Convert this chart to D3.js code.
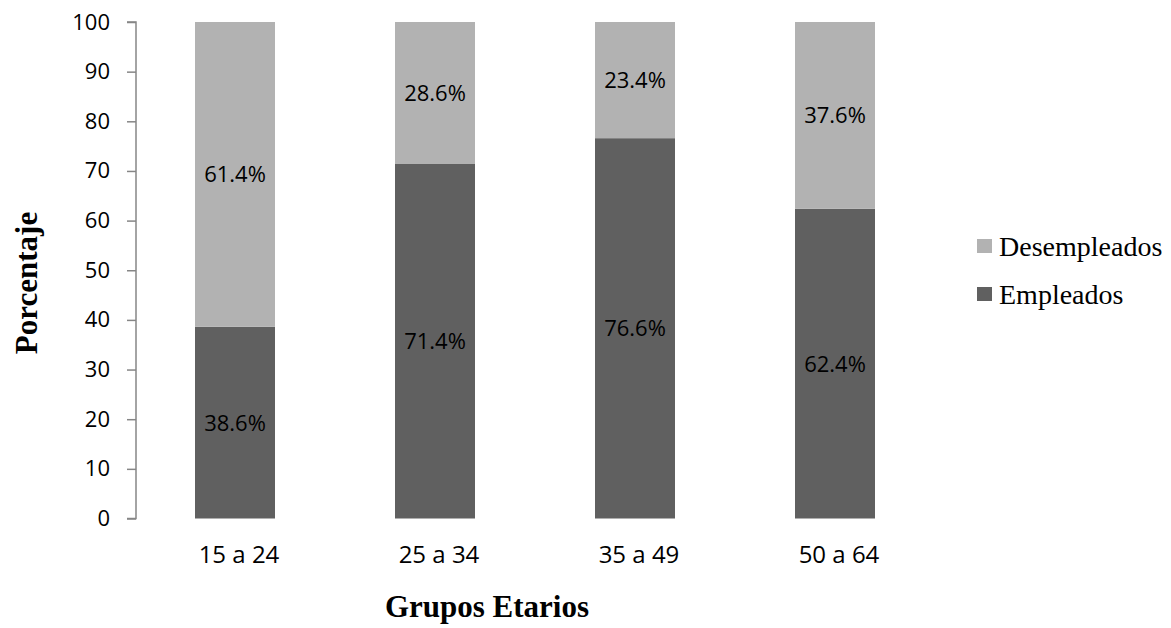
<!DOCTYPE html>
<html>
<head>
<meta charset="utf-8">
<script src="https://cdn.jsdelivr.net/npm/d3@7"></script>
<style>
  body { margin: 0; background: #fff; }
  svg { display: block; }
</style>
</head>
<body>
<svg id="chart" width="1171" height="628"></svg>
<script>
// data
var groups = [ '15 a 24', '25 a 34', '35 a 49', '50 a 64' ];
var empleados = [ 38.6, 71.4, 76.6, 62.4 ];
var desempleados = [ 61.4, 28.6, 23.4, 37.6 ];
var yTicks = [ 0, 10, 20, 30, 40, 50, 60, 70, 80, 90, 100 ];
var seriesNames = [ 'Empleados', 'Desempleados' ];
var seriesColors = [ '#606060', '#b2b2b2' ];

var svg = d3.select( '#chart' ),
	sansFont = '"Open Sans", sans-serif',
	serifFont = '"Liberation Serif", "Times New Roman", serif';

var x = d3.scaleBand()
	.domain( groups )
	.range( [ 135, 935 ] )
	.paddingInner( 0.6 )
	.paddingOuter( 0.3 );

var y = d3.scaleLinear()
	.domain( [ 0, 100 ] )
	.range( [ 518.5, 22 ] );

// stack the two series
var rows = groups.map( function ( g, i ) {
	return { group: g, Empleados: empleados[ i ], Desempleados: desempleados[ i ] };
} );
var stacked = d3.stack().keys( seriesNames )( rows );

var layer = svg.append( 'g' )
	.selectAll( 'g' )
	.data( stacked )
	.join( 'g' )
	.attr( 'fill', function ( d, i ) { return seriesColors[ i ]; } );

layer.selectAll( 'rect' )
	.data( function ( d ) { return d; } )
	.join( 'rect' )
	.attr( 'x', function ( d ) { return x( d.data.group ); } )
	.attr( 'width', x.bandwidth() )
	.attr( 'y', function ( d ) { return y( d[ 1 ] ); } )
	.attr( 'height', function ( d ) { return y( d[ 0 ] ) - y( d[ 1 ] ); } );

// value labels centred in each segment
layer.selectAll( 'text' )
	.data( function ( d ) { return d; } )
	.join( 'text' )
	.attr( 'x', function ( d ) { return x( d.data.group ) + x.bandwidth() / 2; } )
	.attr( 'y', function ( d ) { return y( ( d[ 0 ] + d[ 1 ] ) / 2 ); } )
	.attr( 'dy', '0.36em' )
	.attr( 'text-anchor', 'middle' )
	.attr( 'fill', '#000' )
	.style( 'font', '22px ' + sansFont )
	.text( function ( d ) { return ( d[ 1 ] - d[ 0 ] ).toFixed( 1 ) + '%'; } );

// y axis
var yAxis = svg.append( 'g' )
	.attr( 'transform', 'translate(136,0)' )
	.call( d3.axisLeft( y ).tickValues( yTicks ).tickSize( 9 ).tickPadding( 17 ) );
yAxis.selectAll( 'path, line' ).attr( 'stroke', '#868686' ).attr( 'stroke-width', 1.5 );
yAxis.select( 'path' ).attr( 'd', 'M-9,' + y( 0 ) + 'H0V' + y( 100 ) + 'H-9' );
yAxis.selectAll( 'text' )
	.attr( 'fill', '#000' )
	.style( 'font', '22px ' + sansFont );

// category labels (no x axis line in the reference)
svg.append( 'g' )
	.selectAll( 'text' )
	.data( groups )
	.join( 'text' )
	.attr( 'x', function ( d ) { return x( d ) + x.bandwidth() / 2 + 4; } )
	.attr( 'y', 563 )
	.attr( 'text-anchor', 'middle' )
	.style( 'font', '24px ' + sansFont )
	.text( function ( d ) { return d; } );

// axis titles
svg.append( 'text' )
	.attr( 'x', 487 )
	.attr( 'y', 617 )
	.attr( 'text-anchor', 'middle' )
	.style( 'font', 'bold 31px ' + serifFont )
	.text( 'Grupos Etarios' );

svg.append( 'text' )
	.attr( 'transform', 'translate(37,283) rotate(-90)' )
	.attr( 'text-anchor', 'middle' )
	.style( 'font', 'bold 31px ' + serifFont )
	.text( 'Porcentaje' );

// legend, Desempleados on top
var legendOrder = [ 1, 0 ];
var legend = svg.append( 'g' )
	.selectAll( 'g' )
	.data( legendOrder )
	.join( 'g' )
	.attr( 'transform', function ( d, i ) { return 'translate(977,' + ( 239 + i * 48 ) + ')'; } );

legend.append( 'rect' )
	.attr( 'width', 15 )
	.attr( 'height', 14 )
	.attr( 'fill', function ( d ) { return seriesColors[ d ]; } );

legend.append( 'text' )
	.attr( 'x', 22 )
	.attr( 'y', 17 )
	.style( 'font', '28px ' + serifFont )
	.text( function ( d ) { return seriesNames[ d ]; } );
</script>
</body>
</html>
